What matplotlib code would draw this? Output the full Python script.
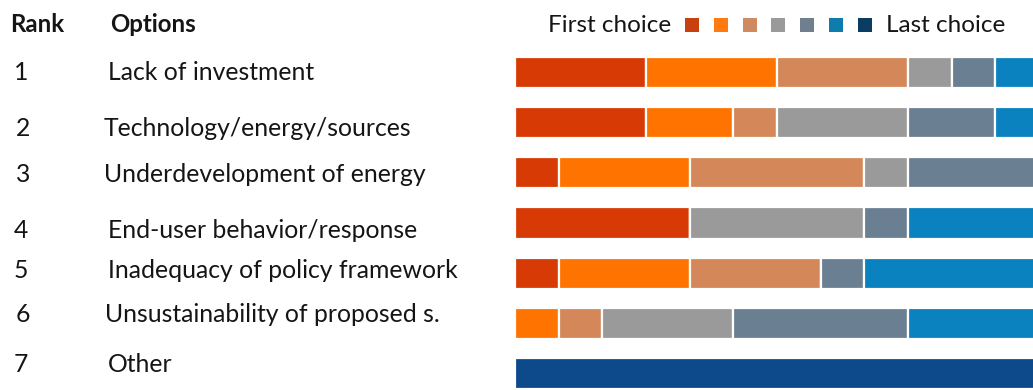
import matplotlib
matplotlib.use("Agg")
import matplotlib.pyplot as plt
from matplotlib.patches import Rectangle

# Ranking results: number of respondents placing each option at each rank position
options = [
    "Lack of investment",
    "Technology/energy/sources",
    "Underdevelopment of energy",
    "End-user behavior/response",
    "Inadequacy of policy framework",
    "Unsustainability of proposed s.",
    "Other",
]
ranks = ["1", "2", "3", "4", "5", "6", "7"]

first_choice = [3, 3, 1, 4, 1, 0, 0]
second_choice = [3, 2, 3, 0, 3, 1, 0]
third_choice = [3, 1, 4, 0, 3, 1, 0]
fourth_choice = [1, 3, 1, 4, 0, 3, 0]
fifth_choice = [1, 2, 3, 1, 1, 4, 0]
sixth_choice = [1, 1, 0, 3, 4, 3, 0]
last_choice = [0, 0, 0, 0, 0, 0, 12]

series = [first_choice, second_choice, third_choice, fourth_choice,
          fifth_choice, sixth_choice, last_choice]
colors = ["#D83A05", "#FF7300", "#D4885A", "#9A9A9A", "#6B7F93", "#0A82C0", "#0D4A8C"]
legend_colors = ["#C8400E", "#FF7A10", "#D08A62", "#9A9A9A", "#6F7F8E", "#0E7DAE", "#0B3C62"]

W, H = 1033, 390
fig = plt.figure(figsize=(W / 100, H / 100), dpi=100)
fig.patch.set_facecolor("white")

FONT = "Lato"
TXT = "#151515"

def fx(px):
    return px / W

def fy(py):
    return 1 - py / H

# Bar area
left, right = 515, 1039
top, bottom = 47, 399
ax = fig.add_axes([fx(left), fy(bottom), (right - left) / W, (bottom - top) / H])
ypos = list(range(len(options)))
cum = [0] * len(options)
for vals, col in zip(series, colors):
    ax.barh(ypos, vals, left=cum, height=0.62, color=col,
            edgecolor="white", linewidth=1.6)
    cum = [c + v for c, v in zip(cum, vals)]
ax.set_xlim(0, 12)
ax.set_ylim(6.5, -0.5)
ax.axis("off")

# Headers
fig.text(fx(10), fy(25), "Rank", fontsize=17.3, fontweight="bold", family=FONT,
         va="center", ha="left", color=TXT)
fig.text(fx(110), fy(25), "Options", fontsize=17.3, fontweight="bold", family=FONT,
         va="center", ha="left", color=TXT)

# Row labels
num_x = [14, 16, 16, 14, 14, 16, 14]
lab_x = [108, 104, 104, 108, 108, 105, 108]
lab_y = [72, 128, 175, 230, 270, 315, 365]
for r, opt, nx, lx, ly in zip(ranks, options, num_x, lab_x, lab_y):
    fig.text(fx(nx), fy(ly), r, fontsize=17.8, family=FONT, va="center",
             ha="left", color=TXT)
    fig.text(fx(lx), fy(ly), opt, fontsize=17.8, family=FONT, va="center",
             ha="left", color=TXT)

# Legend
fig.text(fx(671), fy(25), "First choice", fontsize=17.5, family=FONT,
         va="center", ha="right", color=TXT)
sq = 14
for i, col in enumerate(legend_colors):
    cx = 692 + i * 28.8
    fig.patches.append(Rectangle((fx(cx - sq / 2), fy(25 + sq / 2)), sq / W, sq / H,
                                 transform=fig.transFigure, facecolor=col,
                                 edgecolor="none"))
fig.text(fx(886), fy(25), "Last choice", fontsize=17.5, family=FONT,
         va="center", ha="left", color=TXT)

fig.savefig("out.png", dpi=100, facecolor="white")
